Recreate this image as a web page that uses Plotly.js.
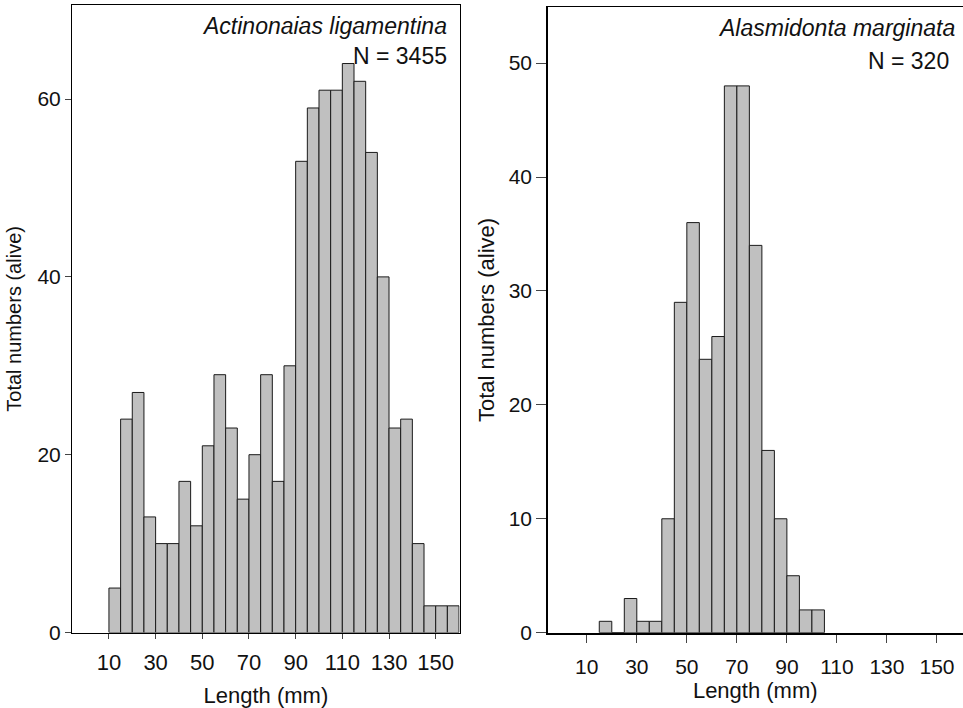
<!DOCTYPE html>
<html>
<head>
<meta charset="utf-8">
<script src="https://cdn.plot.ly/plotly-3.0.1.min.js"></script>
<style>
  html, body { margin: 0; padding: 0; background: #ffffff; }
  #chart { width: 963px; height: 708px; }
</style>
</head>
<body>
<div id="chart"></div>
<script>
// Actinonaias ligamentina: 5 mm length classes (left edge of each class)
const binsLeft = [10, 15, 20, 25, 30, 35, 40, 45, 50, 55, 60, 65, 70, 75, 80, 85,
                  90, 95, 100, 105, 110, 115, 120, 125, 130, 135, 140, 145, 150, 155];
const countsLeft = [5, 24, 27, 13, 10, 10, 17, 12, 21, 29, 23, 15, 20, 29, 17, 30,
                    53, 59, 61, 61, 64, 62, 54, 40, 23, 24, 10, 3, 3, 3];

// Alasmidonta marginata
const binsRight = [15, 20, 25, 30, 35, 40, 45, 50, 55, 60, 65, 70, 75, 80, 85, 90, 95, 100];
const countsRight = [1, 0, 3, 1, 1, 10, 29, 36, 24, 26, 48, 48, 34, 16, 10, 5, 2, 2];

const xTicks = [10, 30, 50, 70, 90, 110, 130, 150];
const yTicksLeft = [0, 20, 40, 60];
const yTicksRight = [0, 10, 20, 30, 40, 50];

const titleLeft = 'Actinonaias ligamentina';
const nLeft = 'N = 3455';
const titleRight = 'Alasmidonta marginata';
const nRight = 'N = 320';
const xTitle = 'Length (mm)';
const yTitle = 'Total numbers (alive)';

const FONT = 'Liberation Sans, Arial, sans-serif';
const barStyle = { color: '#c0c0c0', line: { color: '#1a1a1a', width: 1 } };

const traces = [
  { type: 'bar', x: binsLeft, y: countsLeft, width: 5, offset: 0,
    marker: barStyle, xaxis: 'x', yaxis: 'y', hoverinfo: 'x+y' },
  { type: 'bar', x: binsRight, y: countsRight, width: 5, offset: 0,
    marker: barStyle, xaxis: 'x2', yaxis: 'y2', hoverinfo: 'x+y' }
];

const axisCommon = {
  showgrid: false, zeroline: false, showline: true, mirror: true,
  linecolor: '#000', ticks: 'outside', tickcolor: '#444', tickwidth: 1,
  tickfont: { family: FONT, size: 21, color: '#111' }
};

const layout = {
  width: 963, height: 708,
  margin: { l: 0, r: 0, t: 0, b: 0 },
  paper_bgcolor: '#fff', plot_bgcolor: '#fff',
  showlegend: false, bargap: 0,
  font: { family: FONT, color: '#111' },
  xaxis: Object.assign({}, axisCommon, {
    domain: [72.3 / 963, 459.5 / 963], range: [-5.7, 160.2],
    tickvals: xTicks, ticklen: 5, linewidth: 1.3, ticklabelstandoff: 5,
    tickfont: { family: FONT, size: 22, color: '#111' },
    title: { text: xTitle, font: { family: FONT, size: 22, color: '#111' }, standoff: 16 },
    anchor: 'y'
  }),
  yaxis: Object.assign({}, axisCommon, {
    domain: [1 - 632.5 / 708, 1 - 5.3 / 708], range: [0, 70.55],
    tickvals: yTicksLeft, ticklen: 6, linewidth: 1.3,
    title: { text: yTitle, font: { family: FONT, size: 20, color: '#111' }, standoff: 10 },
    anchor: 'x'
  }),
  xaxis2: Object.assign({}, axisCommon, {
    domain: [548 / 963, 962.5 / 963], range: [-5.5, 160.2],
    tickvals: xTicks, ticklen: 8, linewidth: 1.8, ticklabelstandoff: 6,
    title: { text: xTitle, font: { family: FONT, size: 22, color: '#111' }, standoff: 6 },
    anchor: 'y2'
  }),
  yaxis2: Object.assign({}, axisCommon, {
    domain: [1 - 632.7 / 708, 1 - 7.3 / 708], range: [0, 54.9],
    tickvals: yTicksRight, ticklen: 10, linewidth: 1.8,
    title: { text: yTitle, font: { family: FONT, size: 22, color: '#111' }, standoff: 8 },
    anchor: 'x2'
  }),
  annotations: [
    { text: titleLeft, xref: 'paper', yref: 'paper', x: 448.5 / 963, y: 1 - 26.5 / 708,
      xanchor: 'right', yanchor: 'middle', showarrow: false,
      font: { family: FONT, size: 23, style: 'italic', color: '#111' } },
    { text: nLeft, xref: 'paper', yref: 'paper', x: 448.5 / 963, y: 1 - 56.5 / 708,
      xanchor: 'right', yanchor: 'middle', showarrow: false,
      font: { family: FONT, size: 23, color: '#111' } },
    { text: titleRight, xref: 'paper', yref: 'paper', x: 957 / 963, y: 1 - 27.5 / 708,
      xanchor: 'right', yanchor: 'middle', showarrow: false,
      font: { family: FONT, size: 23, style: 'italic', color: '#111' } },
    { text: nRight, xref: 'paper', yref: 'paper', x: 950.5 / 963, y: 1 - 61.5 / 708,
      xanchor: 'right', yanchor: 'middle', showarrow: false,
      font: { family: FONT, size: 23, color: '#111' } }
  ]
};

Plotly.newPlot('chart', traces, layout, { displayModeBar: false, staticPlot: true });
</script>
</body>
</html>
